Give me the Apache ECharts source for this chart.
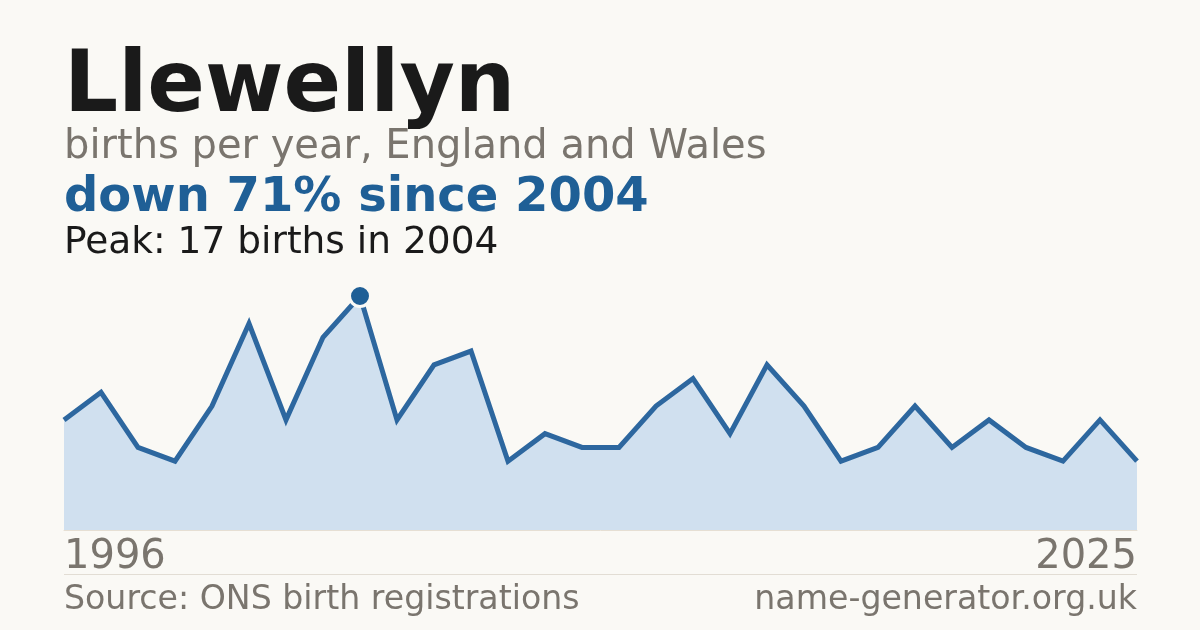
<!DOCTYPE html>
<html>
<head>
<meta charset="utf-8">
<script src="https://cdn.jsdelivr.net/npm/echarts@6/dist/echarts.min.js"></script>
<style>
  html, body { margin: 0; padding: 0; background: #faf9f5; }
  #chart { width: 1200px; height: 630px; }
</style>
</head>
<body>
<div id="chart"></div>
<script>
// 数据 - 每年出生数
const years = [];
for (let y = 1996; y <= 2025; y++) { years.push(String(y)); }
const births = [8, 10, 6, 5, 9, 15, 8, 14, 17, 8, 12, 13, 5, 7, 6, 6, 9, 11, 7, 12, 9, 5, 6, 9, 6, 8, 6, 5, 8, 5];
const peakYear = '2004';
const peakValue = 17;

const blue = '#1f5f96';
const grey = '#7a756e';
const font = 'DejaVu Sans, sans-serif';

// 文字样式
function txt(text, size, weight, color) {
  return { text: text, fontFamily: font, fontSize: size, fontWeight: weight, fill: color };
}

const myChart = echarts.init(document.getElementById('chart'));

const option = {
  backgroundColor: '#faf9f5',
  animation: false,
  grid: { left: 64, right: 63, top: 296, bottom: 100 },
  xAxis: {
    type: 'category',
    data: years,
    boundaryGap: false,
    axisLine: { show: true, lineStyle: { color: '#e6dfd3', width: 1 } },
    axisTick: { show: false },
    axisLabel: { show: false }
  },
  yAxis: {
    type: 'value',
    min: 0,
    max: peakValue,
    show: false,
    splitLine: { show: false }
  },
  series: [
    {
      type: 'line',
      data: births,
      symbol: 'none',
      lineStyle: { color: '#2d679f', width: 5, join: 'miter' },
      areaStyle: { color: '#d0e0ef', opacity: 1 },
      z: 2
    },
    {
      // 峰值标记
      type: 'scatter',
      data: [[peakYear, peakValue]],
      symbol: 'circle',
      symbolSize: 21,
      itemStyle: { color: blue, borderColor: '#faf9f5', borderWidth: 3, opacity: 1 },
      z: 5
    }
  ],
  graphic: [
    { type: 'text', left: 64, top: 46, style: txt('Llewellyn', 85, 'bold', '#1a1a1a') },
    { type: 'text', left: 64, top: 128, style: txt('births per year, England and Wales', 40, 'normal', grey) },
    { type: 'text', left: 64, top: 175, style: txt('down 71% since 2004', 48, 'bold', blue) },
    { type: 'text', left: 64, top: 224, style: txt('Peak: 17 births in 2004', 37.5, 'normal', '#1a1a1a') },
    { type: 'text', left: 64, top: 538, style: txt('1996', 40, 'normal', grey) },
    { type: 'text', right: 63, top: 538, style: txt('2025', 40, 'normal', grey) },
    { type: 'rect', shape: { x: 64, y: 574, width: 1073, height: 1 }, style: { fill: '#e2ddd4' } },
    { type: 'text', left: 64, top: 584, style: txt('Source: ONS birth registrations', 33.2, 'normal', grey) },
    { type: 'text', right: 63, top: 584, style: txt('name-generator.org.uk', 33.2, 'normal', grey) }
  ]
};
myChart.setOption(option);
</script>
</body>
</html>
